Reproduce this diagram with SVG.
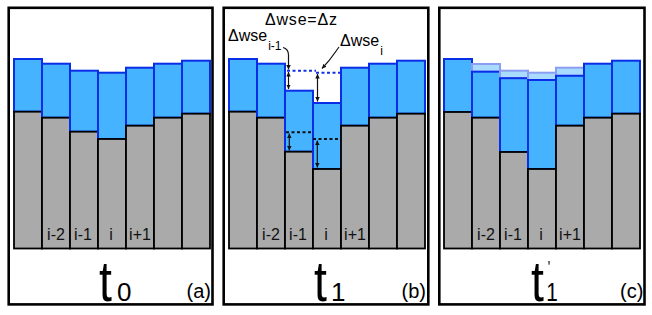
<svg xmlns="http://www.w3.org/2000/svg" width="652" height="315" viewBox="0 0 652 315">
<style>
.frame{fill:#fff;stroke:#000;stroke-width:2.6}
.w{fill:#45b3ff;stroke:#0a2ee6;stroke-width:2}
.f{fill:#a9dbff;stroke:#8c9ef2;stroke-width:2}
.g{fill:#aaaaaa;stroke:#000;stroke-width:1.8}
.lbl{font-family:"Liberation Sans",Arial,sans-serif;font-size:16px;fill:#111;text-anchor:middle}
.big{font-family:"Liberation Sans",Arial,sans-serif;font-size:58px;fill:#000}
.bsub{font-family:"Liberation Sans",Arial,sans-serif;font-size:26px;fill:#000}
.pl{font-family:"Liberation Sans",Arial,sans-serif;font-size:20px;fill:#000}
.ann{font-family:"Liberation Sans",Arial,sans-serif;font-size:16px;fill:#000}
.sub{font-size:12px}
.arr{fill:none;stroke:#111;stroke-width:1.2}
.dotb{fill:none;stroke:#1030e8;stroke-width:2;stroke-dasharray:3 2.5}
.dotk{fill:none;stroke:#111;stroke-width:2;stroke-dasharray:3 2.5}
</style>
<defs>
<marker id="ah" viewBox="0 0 8 8" refX="8" refY="4" markerWidth="4.5" markerHeight="4.5" markerUnits="userSpaceOnUse" orient="auto-start-reverse">
<path d="M0,0 L8,4 L0,8 z" fill="#111"/>
</marker>
</defs>

<!-- Panel (a) -->
<g id="panel-a">
<rect class="frame" x="8.7" y="7.8" width="203.8" height="296.6"/>
<g id="a-col0"><rect class="w" x="14" y="59" width="28" height="52.7"/><rect class="g" x="14" y="111.7" width="28" height="136.8"/></g>
<g id="a-col1"><rect class="w" x="42" y="63.7" width="28" height="54"/><rect class="g" x="42" y="117.7" width="28" height="130.8"/></g>
<g id="a-col2"><rect class="w" x="70" y="70.7" width="28" height="61"/><rect class="g" x="70" y="131.7" width="28" height="116.8"/></g>
<g id="a-col3"><rect class="w" x="98" y="72.7" width="28" height="66.3"/><rect class="g" x="98" y="139" width="28" height="109.5"/></g>
<g id="a-col4"><rect class="w" x="126" y="67.7" width="28" height="58"/><rect class="g" x="126" y="125.7" width="28" height="122.8"/></g>
<g id="a-col5"><rect class="w" x="154" y="63.7" width="28" height="54"/><rect class="g" x="154" y="117.7" width="28" height="130.8"/></g>
<g id="a-col6"><rect class="w" x="182" y="60.7" width="28" height="53"/><rect class="g" x="182" y="113.7" width="28" height="134.8"/></g>
<text class="lbl" x="56" y="240">i-2</text>
<text class="lbl" x="83" y="240">i-1</text>
<text class="lbl" x="111" y="240">i</text>
<text class="lbl" x="140" y="240">i+1</text>
<text class="big" transform="translate(99,301) scale(0.8,1)">t</text>
<text class="bsub" x="117" y="301">0</text>
<text class="pl" x="186.5" y="297.5">(a)</text>
</g>

<!-- Panel (b) -->
<g id="panel-b">
<rect class="frame" x="223.7" y="7.8" width="204.6" height="296.6"/>
<g id="b-col0"><rect class="w" x="229" y="59" width="28" height="52.7"/><rect class="g" x="229" y="111.7" width="28" height="136.8"/></g>
<g id="b-col1"><rect class="w" x="257" y="63.7" width="28" height="54"/><rect class="g" x="257" y="117.7" width="28" height="130.8"/></g>
<g id="b-col2"><rect class="w" x="285" y="90.7" width="28" height="61"/><rect class="g" x="285" y="151.7" width="28" height="96.8"/></g>
<g id="b-col3"><rect class="w" x="313" y="103" width="28" height="66"/><rect class="g" x="313" y="169" width="28" height="79.5"/></g>
<g id="b-col4"><rect class="w" x="341" y="67.7" width="28" height="58"/><rect class="g" x="341" y="125.7" width="28" height="122.8"/></g>
<g id="b-col5"><rect class="w" x="369" y="63.7" width="28" height="54"/><rect class="g" x="369" y="117.7" width="28" height="130.8"/></g>
<g id="b-col6"><rect class="w" x="397" y="60.7" width="28" height="53"/><rect class="g" x="397" y="113.7" width="28" height="134.8"/></g>
<text class="lbl" x="271" y="240">i-2</text>
<text class="lbl" x="298" y="240">i-1</text>
<text class="lbl" x="326" y="240">i</text>
<text class="lbl" x="355" y="240">i+1</text>
<text class="big" transform="translate(314,301) scale(0.8,1)">t</text>
<text class="bsub" x="331" y="301">1</text>
<text class="pl" x="401.5" y="297.5">(b)</text>
<text class="ann" x="265" y="25" textLength="72">Δwse=Δz</text>
<text class="ann" x="228" y="41">Δwse<tspan class="sub" dx="1" dy="9">i-1</tspan></text>
<text class="ann" x="340" y="46">Δwse<tspan class="sub" dx="1" dy="9">i</tspan></text>
</g>

<!-- Panel (c) -->
<g id="panel-c">
<rect class="frame" x="439.3" y="7.8" width="205.2" height="296.6"/>
<g id="c-col0"><rect class="w" x="444" y="59" width="28" height="53"/><rect class="g" x="444" y="112" width="28" height="136.5"/></g>
<g id="c-col1"><rect class="f" x="472" y="64" width="28" height="7.7"/><rect class="w" x="472" y="71.7" width="28" height="46"/><rect class="g" x="472" y="117.7" width="28" height="130.8"/></g>
<g id="c-col2"><rect class="f" x="500" y="70.7" width="28" height="7.5"/><rect class="w" x="500" y="78.2" width="28" height="73.8"/><rect class="g" x="500" y="152" width="28" height="96.5"/></g>
<g id="c-col3"><rect class="f" x="528" y="72.7" width="28" height="7.3"/><rect class="w" x="528" y="80" width="28" height="89"/><rect class="g" x="528" y="169" width="28" height="79.5"/></g>
<g id="c-col4"><rect class="f" x="556" y="67.7" width="28" height="8.1"/><rect class="w" x="556" y="75.8" width="28" height="49.9"/><rect class="g" x="556" y="125.7" width="28" height="122.8"/></g>
<g id="c-col5"><rect class="w" x="584" y="63.7" width="28" height="54"/><rect class="g" x="584" y="117.7" width="28" height="130.8"/></g>
<g id="c-col6"><rect class="w" x="612" y="60.7" width="28" height="53"/><rect class="g" x="612" y="113.7" width="28" height="134.8"/></g>
<text class="lbl" x="486" y="240">i-2</text>
<text class="lbl" x="513" y="240">i-1</text>
<text class="lbl" x="541" y="240">i</text>
<text class="lbl" x="570" y="240">i+1</text>
<text class="big" transform="translate(531,301) scale(0.8,1)">t<tspan x="21" y="-27.8" font-size="16">'</tspan><tspan x="19" y="0" font-size="26">1</tspan></text>
<text class="pl" x="620" y="297.5">(c)</text>
</g>

<!-- Connectors / annotations in panel (b) -->
<g id="connectors">
<path class="dotb" d="M287,70.7 H316"/>
<path class="dotb" d="M316,72.7 H340"/>
<path class="dotk" d="M286,132.3 H313"/>
<path class="dotk" d="M313,139 H341"/>
<path class="arr" d="M288.5,72 V89" marker-start="url(#ah)" marker-end="url(#ah)"/>
<path class="arr" d="M317.5,74 V101.5" marker-start="url(#ah)" marker-end="url(#ah)"/>
<path class="arr" d="M289.3,133.5 V150.5" marker-start="url(#ah)" marker-end="url(#ah)"/>
<path class="arr" d="M317.3,140.5 V167.5" marker-start="url(#ah)" marker-end="url(#ah)"/>
<path class="arr" d="M283,47.5 Q288.5,49 288.5,55 V69.5" marker-end="url(#ah)"/>
<path class="arr" d="M339,47 C335,52 333,57 322,68.5" marker-end="url(#ah)"/>
</g>
</svg>
